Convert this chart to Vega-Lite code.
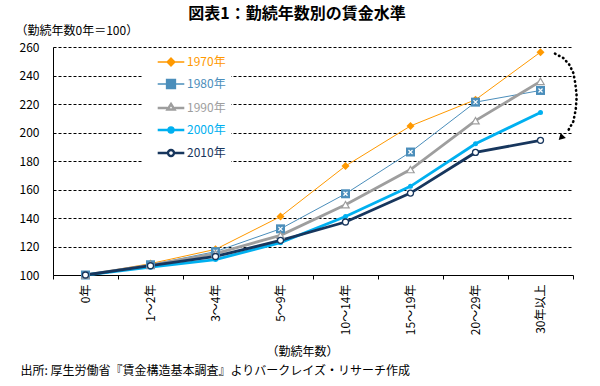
{
  "$schema": "https://vega.github.io/schema/vega-lite/v6.json",
  "width": 520,
  "height": 228,
  "autosize": {"type": "none"},
  "padding": {"left": 53, "top": 47, "right": 27, "bottom": 111},
  "background": "white",
  "title": {"text": "図表1：勤続年数別の賃金水準", "fontSize": 16, "fontWeight": "bold", "anchor": "middle", "dx": -16, "offset": 2, "color": "black"},
  "datasets": {
    "wages": [
      {"series": "1970年", "tenure": "0年", "value": 100},
      {"series": "1970年", "tenure": "1～2年", "value": 108},
      {"series": "1970年", "tenure": "3～4年", "value": 118},
      {"series": "1970年", "tenure": "5～9年", "value": 141},
      {"series": "1970年", "tenure": "10～14年", "value": 176.5},
      {"series": "1970年", "tenure": "15～19年", "value": 204.6},
      {"series": "1970年", "tenure": "20～29年", "value": 223},
      {"series": "1970年", "tenure": "30年以上", "value": 256.4},
      {"series": "1980年", "tenure": "0年", "value": 100},
      {"series": "1980年", "tenure": "1～2年", "value": 107.2},
      {"series": "1980年", "tenure": "3～4年", "value": 116.4},
      {"series": "1980年", "tenure": "5～9年", "value": 132.4},
      {"series": "1980年", "tenure": "10～14年", "value": 157},
      {"series": "1980年", "tenure": "15～19年", "value": 186.3},
      {"series": "1980年", "tenure": "20～29年", "value": 221.3},
      {"series": "1980年", "tenure": "30年以上", "value": 229.5},
      {"series": "1990年", "tenure": "0年", "value": 100},
      {"series": "1990年", "tenure": "1～2年", "value": 107},
      {"series": "1990年", "tenure": "3～4年", "value": 115},
      {"series": "1990年", "tenure": "5～9年", "value": 127.8},
      {"series": "1990年", "tenure": "10～14年", "value": 149.3},
      {"series": "1990年", "tenure": "15～19年", "value": 174},
      {"series": "1990年", "tenure": "20～29年", "value": 208.3},
      {"series": "1990年", "tenure": "30年以上", "value": 235.9},
      {"series": "2000年", "tenure": "0年", "value": 100},
      {"series": "2000年", "tenure": "1～2年", "value": 105.5},
      {"series": "2000年", "tenure": "3～4年", "value": 110.8},
      {"series": "2000年", "tenure": "5～9年", "value": 122.7},
      {"series": "2000年", "tenure": "10～14年", "value": 141.1},
      {"series": "2000年", "tenure": "15～19年", "value": 162.2},
      {"series": "2000年", "tenure": "20～29年", "value": 192.1},
      {"series": "2000年", "tenure": "30年以上", "value": 214.1},
      {"series": "2010年", "tenure": "0年", "value": 100},
      {"series": "2010年", "tenure": "1～2年", "value": 106.5},
      {"series": "2010年", "tenure": "3～4年", "value": 113},
      {"series": "2010年", "tenure": "5～9年", "value": 124.3},
      {"series": "2010年", "tenure": "10～14年", "value": 137.2},
      {"series": "2010年", "tenure": "15～19年", "value": 157.5},
      {"series": "2010年", "tenure": "20～29年", "value": 186},
      {"series": "2010年", "tenure": "30年以上", "value": 194.5}
    ],
    "arc": [
      {"i": 1, "xq": 7.723, "value": 255.3, "kind": "dot"},
      {"i": 2, "xq": 7.851, "value": 252.3, "kind": "dot"},
      {"i": 3, "xq": 7.943, "value": 247.6, "kind": "dot"},
      {"i": 4, "xq": 8.005, "value": 241.8, "kind": "dot"},
      {"i": 5, "xq": 8.035, "value": 234.7, "kind": "dot"},
      {"i": 6, "xq": 8.057, "value": 225.3, "kind": "dot"},
      {"i": 7, "xq": 8.042, "value": 216.0, "kind": "dot"},
      {"i": 8, "xq": 8.005, "value": 207.8, "kind": "dot"},
      {"i": 9, "xq": 7.928, "value": 201.5, "kind": "dot"},
      {"i": 10, "xq": 7.815, "value": 196.3, "kind": "head"}
    ]
  },
  "layer": [
    {
      "data": {"name": "wages"},
      "encoding": {
        "x": {
          "field": "tenure", "type": "nominal", "bandPosition": 0.5,
          "scale": {"type": "band", "domain": ["0年", "1～2年", "3～4年", "5～9年", "10～14年", "15～19年", "20～29年", "30年以上"], "paddingInner": 0, "paddingOuter": 0},
          "axis": {
            "title": "（勤続年数）", "titleX": 249, "titleY": 76, "titleAlign": "center", "titleBaseline": "middle", "titleAngle": 0,
            "titleFontSize": 12, "titleFontWeight": "normal", "titleColor": "black",
            "labelAngle": 270, "labelAlign": "right", "labelBaseline": "middle", "labelFontSize": 12, "labelPadding": 5, "labelColor": "black",
            "tickSize": 4, "tickBand": "extent", "tickColor": "black", "domainColor": "black", "grid": false
          }
        },
        "y": {
          "field": "value", "type": "quantitative",
          "scale": {"domain": [100, 260], "nice": false, "zero": false},
          "axis": {
            "title": "（勤続年数0年＝100）", "titleAngle": 0, "titleX": -38, "titleY": -17, "titleAlign": "left", "titleBaseline": "middle",
            "titleFontSize": 12, "titleFontWeight": "normal", "titleColor": "black",
            "values": [100, 120, 140, 160, 180, 200, 220, 240, 260], "labelOverlap": false,
            "grid": true, "gridColor": "black", "gridDash": [3, 2], "gridWidth": 1, "gridOpacity": 1,
            "ticks": false, "tickSize": 0, "labelPadding": 14, "labelFontSize": 12, "labelColor": "black", "domainColor": "black"
          }
        }
      },
      "layer": [
        {
          "transform": [{"filter": "datum.series === '1970年' || datum.series === '1980年'"}],
          "mark": {"type": "line", "strokeWidth": 1},
          "encoding": {
            "color": {
              "field": "series", "type": "nominal",
              "scale": {"domain": ["1970年", "1980年", "1990年", "2000年", "2010年"], "range": ["#FF9900", "#4B8EBB", "#9E9E9E", "#00B0F0", "#17365D"]},
              "legend": {
                "orient": "none", "legendX": 90, "legendY": 4, "title": null, "fillColor": "white", "padding": 5,
                "labelFontSize": 12, "symbolSize": 100, "symbolOffset": 17, "labelOffset": 10, "rowPadding": 7,
                "values": ["1970年", "1980年", "1990年", "2000年", "2010年"],
                "encode": {
                  "symbols": {"update": {
                    "shape": {"signal": "datum.value === '1970年' ? 'M-2.66,0L2.66,0M0,-0.8L0.8,0L0,0.8L-0.8,0Z' : datum.value === '1980年' ? 'M-2.66,0L-0.9,0M0.9,0L2.66,0M-0.9,-0.9L0.9,-0.9L0.9,0.9L-0.9,0.9Z' : datum.value === '1990年' ? 'M-2.66,0L-0.7,0M0.7,0L2.66,0M0,-0.8L0.7,0.3L-0.7,0.3Z' : datum.value === '2000年' ? 'M-2.66,0L2.66,0M0.5,0A0.5,0.5 0 1,1 -0.5,0A0.5,0.5 0 1,1 0.5,0Z' : 'M-2.66,0L-0.6,0M0.6,0L2.66,0M0.6,0A0.6,0.6 0 1,1 -0.6,0A0.6,0.6 0 1,1 0.6,0Z'"},
                    "size": {"value": 100},
                    "fill": {"signal": "datum.value === '1990年' || datum.value === '2010年' ? 'white' : scale('color', datum.value)"},
                    "stroke": {"signal": "scale('color', datum.value)"},
                    "strokeWidth": {"signal": "datum.value === '1970年' || datum.value === '1980年' ? 1.3 : 2.4"},
                    "opacity": {"value": 1},
                    "fillOpacity": {"value": 1},
                    "strokeOpacity": {"value": 1}
                  }},
                  "labels": {"update": {"fill": {"signal": "scale('color', datum.value)"}}}
                }
              }
            }
          }
        },
        {
          "transform": [{"filter": "datum.series !== '1970年' && datum.series !== '1980年'"}],
          "mark": {"type": "line", "strokeWidth": 2.8},
          "encoding": {
            "color": {"field": "series", "type": "nominal", "legend": null}
          }
        },
        {
          "transform": [{"filter": "datum.series === '1970年'"}],
          "mark": {"type": "point", "shape": "diamond", "filled": true, "fill": "#FF9900", "size": 64, "opacity": 1}
        },
        {
          "transform": [{"filter": "datum.series === '1980年'"}],
          "mark": {"type": "point", "shape": "square", "filled": true, "fill": "#4B8EBB", "size": 81, "opacity": 1}
        },
        {
          "transform": [{"filter": "datum.series === '1980年'"}],
          "mark": {"type": "point", "shape": "M-1,-1L1,1M1,-1L-1,1", "filled": false, "stroke": "white", "strokeWidth": 1.2, "size": 16, "opacity": 1}
        },
        {
          "transform": [{"filter": "datum.series === '1990年'"}],
          "mark": {"type": "point", "shape": "triangle-up", "filled": true, "fill": "white", "stroke": "#9E9E9E", "strokeWidth": 1.2, "size": 55, "opacity": 1}
        },
        {
          "transform": [{"filter": "datum.series === '2000年'"}],
          "mark": {"type": "point", "shape": "circle", "filled": true, "fill": "#00B0F0", "size": 25, "opacity": 1}
        },
        {
          "transform": [{"filter": "datum.series === '2010年'"}],
          "mark": {"type": "point", "shape": "circle", "filled": true, "fill": "white", "stroke": "#17365D", "strokeWidth": 1.3, "size": 36, "opacity": 1}
        }
      ]
    },
    {
      "data": {"name": "arc"},
      "encoding": {
        "x": {
          "field": "xq", "type": "quantitative",
          "scale": {"domain": [0, 8], "nice": false, "zero": false},
          "axis": {
            "orient": "bottom", "domain": false, "ticks": false, "labels": false, "grid": false,
            "title": "出所: 厚生労働省『賃金構造基本調査』よりバークレイズ・リサーチ作成",
            "titleX": -33, "titleY": 95, "titleAlign": "left", "titleAnchor": "start", "titleBaseline": "middle", "titleAngle": 0,
            "titleFontSize": 12, "titleFontWeight": "normal", "titleColor": "black"
          }
        },
        "y": {"field": "value", "type": "quantitative", "scale": {"domain": [100, 260], "nice": false, "zero": false}, "axis": null}
      },
      "layer": [
        {
          "transform": [{"filter": "datum.kind === 'dot'"}],
          "mark": {"type": "line", "stroke": "black", "strokeWidth": 2.6, "strokeDash": [0.5, 4], "strokeCap": "round"},
          "encoding": {"order": {"field": "i", "type": "quantitative"}}
        },
        {
          "transform": [{"filter": "datum.kind === 'head'"}],
          "mark": {"type": "point", "shape": "triangle-up", "filled": true, "fill": "black", "size": 55, "angle": 225, "opacity": 1}
        }
      ]
    }
  ],
  "resolve": {"scale": {"x": "independent"}, "axis": {"y": "independent"}},
  "config": {
    "font": "Noto Sans CJK JP",
    "view": {"stroke": null}
  }
}
